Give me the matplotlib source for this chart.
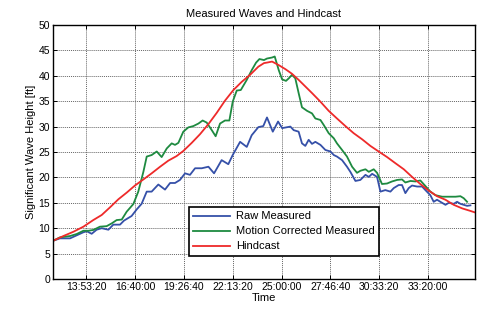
import matplotlib
matplotlib.use("Agg")
import matplotlib.pyplot as plt
from matplotlib.ticker import FuncFormatter, MultipleLocator

plt.rcParams['font.family'] = ['Liberation Sans', 'DejaVu Sans']

# Time in hours since midnight of day 1
raw_t = [12.02, 12.40, 12.97, 13.35, 13.73, 13.92, 14.20, 14.48, 14.77, 15.15, 15.43, 15.81,
         16.04, 16.47, 16.76, 17.04, 17.33, 17.61, 17.99, 18.37, 18.66, 18.94, 19.22, 19.51,
         19.79, 20.08, 20.46, 20.84, 21.16, 21.59, 21.97, 22.22, 22.64, 23.02, 23.30, 23.68,
         23.96, 24.17, 24.50, 24.80, 25.03, 25.50, 25.69, 25.97, 26.16, 26.35, 26.54, 26.73,
         26.92, 27.21, 27.49, 27.78, 27.97, 28.15, 28.44, 28.72, 28.91, 29.20, 29.48, 29.77,
         29.96, 30.15, 30.43, 30.62, 30.90, 31.19, 31.38, 31.66, 31.85, 32.04, 32.23, 32.42,
         32.71, 32.99, 33.18, 33.46, 33.65, 33.84, 34.03, 34.32, 34.51, 34.79, 34.98, 35.17,
         35.36, 35.55, 35.74]
raw_v = [7.55, 8.0, 8.0, 8.6, 9.2, 9.4, 8.9, 9.7, 10.0, 9.7, 10.7, 10.7,
         11.5, 12.4, 13.7, 14.8, 17.2, 17.2, 18.6, 17.6, 18.9, 18.9, 19.5, 20.8,
         20.5, 21.8, 21.8, 22.1, 20.8, 23.4, 22.6, 24.4, 27.0, 26.0, 28.3, 29.9,
         30.1, 31.8, 29.0, 31.0, 29.7, 30.0, 29.3, 29.0, 26.7, 26.2, 27.4, 26.6,
         27.0, 26.4, 25.4, 25.1, 24.4, 24.1, 23.4, 22.1, 21.1, 19.3, 19.5, 20.5,
         20.1, 20.7, 20.1, 17.2, 17.5, 17.2, 17.9, 18.5, 18.5, 16.9, 17.9, 18.4,
         18.2, 18.2, 17.5, 16.5, 15.2, 15.6, 15.2, 14.6, 15.0, 14.8, 15.2, 14.8,
         14.6, 14.4, 14.5]

mc_t = [12.02, 12.40, 12.97, 13.35, 13.73, 14.01, 14.29, 14.67, 15.05, 15.34, 15.62, 15.91,
        16.19, 16.57, 16.85, 17.14, 17.33, 17.61, 17.90, 18.18, 18.47, 18.75, 18.94, 19.13,
        19.41, 19.70, 19.98, 20.27, 20.51, 20.74, 21.03, 21.25, 21.50, 21.78, 22.03, 22.22,
        22.45, 22.68, 23.02, 23.30, 23.55, 23.74, 24.00, 24.17, 24.46, 24.61, 24.84, 25.03,
        25.25, 25.41, 25.59, 25.78, 25.97, 26.16, 26.45, 26.73, 26.92, 27.21, 27.40, 27.68,
        27.97, 28.15, 28.44, 28.72, 29.01, 29.29, 29.48, 29.77, 29.96, 30.24, 30.43, 30.71,
        31.00, 31.28, 31.57, 31.85, 32.04, 32.33, 32.61, 32.89, 33.18, 33.46, 33.75, 34.13,
        34.51, 34.89, 35.17, 35.36, 35.55]
mc_v = [7.55, 8.2, 8.46, 8.86, 9.5, 9.5, 9.65, 10.3, 10.4, 10.95, 11.6, 11.7,
        13.25, 14.76, 17.2, 21.1, 24.1, 24.4, 25.1, 24.0, 25.7, 26.7, 26.4, 26.8,
        29.0, 29.85, 30.1, 30.6, 31.2, 30.8, 29.3, 28.1, 30.6, 31.2, 31.2, 34.9,
        37.1, 37.2, 39.2, 41.1, 42.6, 43.3, 43.1, 43.4, 43.6, 43.8, 41.1, 39.3,
        39.0, 39.5, 40.2, 39.5, 36.6, 33.8, 33.1, 32.6, 31.6, 31.3, 30.3, 28.7,
        27.7, 26.7, 25.4, 24.1, 22.1, 20.9, 21.3, 21.6, 21.1, 21.6, 20.9, 18.7,
        18.8, 19.2, 19.5, 19.6, 19.0, 19.3, 19.2, 19.4, 18.3, 17.2, 16.5, 16.2,
        16.2, 16.2, 16.3, 15.9, 15.2]

hc_t = [12.02, 12.59, 13.16, 13.73, 14.29, 14.77, 15.24, 15.72, 16.19, 16.66, 17.14, 17.61,
        18.09, 18.56, 19.03, 19.41, 19.89, 20.36, 20.84, 21.31, 21.78, 22.26, 22.73, 23.21,
        23.68, 24.00, 24.17, 24.46, 24.84, 25.22, 25.59, 25.97, 26.35, 26.73, 27.21, 27.68,
        28.15, 28.63, 29.10, 29.58, 30.05, 30.52, 31.00, 31.47, 31.95, 32.42, 32.89, 33.37,
        33.84, 34.32, 34.79, 35.27, 35.74, 36.00]
hc_v = [7.55, 8.46, 9.3, 10.3, 11.6, 12.6, 14.1, 15.7, 17.0, 18.4, 19.6, 20.8,
        22.1, 23.3, 24.2, 25.2, 26.8, 28.5, 30.5, 32.7, 35.1, 37.2, 38.8, 40.2,
        41.8, 42.5, 42.6, 42.8, 42.1, 41.3, 40.4, 39.2, 37.9, 36.6, 34.9, 33.1,
        31.6, 30.1, 28.7, 27.5, 26.2, 25.1, 24.0, 22.8, 21.6, 20.1, 18.7, 17.4,
        16.3, 15.6, 14.6, 13.9, 13.4, 13.1]

series_names = ["Raw Measured", "Motion Corrected Measured", "Hindcast"]
xtick_seconds = [50000, 60000, 70000, 80000, 90000, 100000, 110000, 120000]


def to_sec(hours):
    return [h * 3600.0 for h in hours]


def fmt_time(x, pos):
    s = int(round(x))
    h = s // 3600
    m = (s % 3600) // 60
    sec = s % 60
    return f"{h}:{m:02d}:{sec:02d}"


fig = plt.figure(figsize=(4.84, 3.09), dpi=100)
ax = fig.add_axes([53 / 484, 30 / 309, 422 / 484, 254 / 309])

ax.plot(to_sec(raw_t), raw_v, color='#3550a8', lw=1.3, label=series_names[0])
ax.plot(to_sec(mc_t), mc_v, color='#1e8a40', lw=1.3, label=series_names[1])
ax.plot(to_sec(hc_t), hc_v, color='#ee2a2a', lw=1.3, label=series_names[2])

ax.set_xlim(12 * 3600, 36 * 3600)
ax.set_ylim(0, 50)
ax.set_xticks(xtick_seconds)
ax.xaxis.set_major_formatter(FuncFormatter(fmt_time))
ax.yaxis.set_major_locator(MultipleLocator(5))

ax.grid(True, color='#666666', linestyle=(0, (1, 1)), linewidth=0.7)
ax.tick_params(direction='in', top=True, right=True, labelsize=7.5, length=3, width=0.7, pad=2)
for sp in ax.spines.values():
    sp.set_linewidth(1.0)
    sp.set_color('black')

ax.set_title("Measured Waves and Hindcast", fontsize=8, pad=6)
ax.set_xlabel("Time", fontsize=8, labelpad=1)
ax.set_ylabel("Significant Wave Height [ft]", fontsize=8, labelpad=2)

leg = ax.legend(loc='upper left', bbox_to_anchor=((189 - 53) / 422, (279 - 207) / 254),
                fontsize=8, fancybox=False, framealpha=1, edgecolor='black',
                borderaxespad=0, handlelength=3.3, handletextpad=0.5,
                labelspacing=0.45, borderpad=0.4)
leg.get_frame().set_linewidth(1.2)

fig.savefig("out.png", dpi=100)
